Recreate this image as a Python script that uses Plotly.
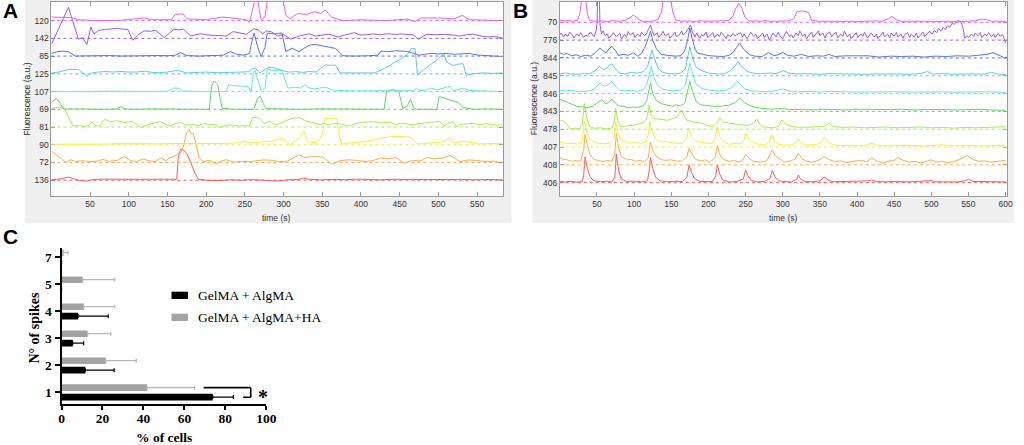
import plotly.graph_objects as go

W, H = 1024, 445

# ---------------- panel A: calcium traces (offset from own baseline, in row units)
A_LABELS = ['136', '72', '90', '81', '69', '107', '125', '85', '142', '120']

A136 = [(0, 0.02), (8, 0.05), (15, 0.1), (22, 0.18), (28, 0.08), (35, 0.0), (45, -0.05), (55, 0.04),
        (65, 0.06), (80, 0.05), (95, 0.07), (110, 0.06), (125, 0.05), (140, 0.06), (150, 0.04), (162, 0.05),
        (164, 1.3), (167, 1.75), (171, 1.7), (175, 1.5), (180, 1.0), (185, 0.45), (190, 0.05), (200, 0.0),
        (215, -0.02), (230, 0.02), (245, 0.0), (260, 0.03), (275, 0.0), (290, -0.05), (305, 0.02), (320, 0.05),
        (326, 0.12), (335, 0.04), (350, 0.02), (365, 0.05), (380, 0.03), (395, 0.06), (410, 0.04), (425, 0.02),
        (440, 0.05), (455, 0.04), (470, 0.03), (485, 0.06), (500, 0.02), (515, 0.04), (530, 0.05), (545, 0.02),
        (560, 0.04), (575, 0.03), (583, 0.02)]
A72 = [(0, 0.62), (6, 0.45), (12, 0.25), (18, 0.02), (25, 0.15), (32, 0.05), (40, 0.1), (50, 0.05), (60, 0.08),
       (66, 0.18), (75, 0.06), (85, 0.12), (95, 0.34), (102, 0.1), (110, 0.05), (118, 0.2), (126, 0.1),
       (134, 0.05), (141, 0.25), (148, 0.1), (154, 0.28), (162, 0.43), (168, 0.6), (171, 1.0), (175, 1.7),
       (178, 1.85), (181, 1.6), (183, 1.65), (186, 1.2), (191, 0.25), (197, 0.05), (205, 0.12), (213, -0.1),
       (220, 0.1), (226, 0.15), (235, 0.02), (245, 0.06), (256, 0.05), (265, 0.1), (275, 0.15), (285, 0.12),
       (295, 0.05), (305, 0.08), (313, 0.25), (320, 0.43), (328, 0.28), (340, 0.34), (350, 0.3), (363, -0.1),
       (372, 0.1), (384, 0.15), (395, 0.12), (405, 0.05), (415, 0.1), (426, 0.25), (436, 0.2), (445, 0.28),
       (456, -0.04), (465, 0.1), (478, 0.1), (485, 0.28), (495, 0.2), (505, 0.25), (515, 0.4), (522, 0.2),
       (528, 0.05), (540, 0.15), (550, 0.1), (560, 0.06), (572, 0.08), (583, -0.04)]
A90 = [(0, 0.03), (20, 0.02), (40, 0.05), (60, 0.03), (80, 0.05), (100, 0.04), (120, 0.06), (140, 0.05),
       (160, 0.07), (180, 0.06), (200, 0.08), (220, 0.07), (240, 0.1), (250, 0.19), (258, 0.1), (268, 0.15),
       (282, 0.19), (292, 0.3), (298, 0.38), (304, 0.15), (308, 0.0), (316, 0.25), (322, 0.45), (326, 0.8),
       (330, 0.3), (334, 0.1), (345, 0.15), (350, 0.6), (353, 1.47), (362, 1.5), (369, 1.45), (372, 0.5),
       (375, 0.04), (390, 0.12), (400, 0.15), (409, 0.22), (418, 0.28), (426, 0.38), (436, 0.45), (445, 0.48),
       (456, 0.45), (465, 0.42), (471, 0.1), (476, 0.05), (490, 0.1), (505, 0.15), (514, 0.38), (520, 0.1),
       (530, 0.18), (540, 0.15), (552, 0.05), (565, 0.06), (583, 0.08)]
A81 = [(0, 1.05), (8, 1.1), (16, 1.08), (22, 0.6), (28, 0.05), (35, 0.1), (42, 0.02), (48, 0.08), (52, 0.3),
       (56, 0.1), (62, 0.05), (69, 0.43), (76, 0.3), (85, 0.35), (95, 0.25), (104, 0.33), (110, 0.15),
       (116, -0.04), (124, 0.12), (132, 0.2), (141, 0.3), (148, 0.15), (154, 0.06), (160, 0.2), (167, 0.25),
       (175, 0.1), (182, 0.15), (190, 0.08), (198, 0.2), (206, 0.12), (212, 0.15), (218, -0.04), (226, 0.12),
       (235, 0.1), (243, 0.05), (250, 0.1), (256, 0.06), (260, 0.53), (266, 0.53), (270, 0.45), (275, 0.19),
       (282, 0.34), (290, 0.1), (298, 0.25), (307, 0.43), (314, 0.5), (320, 0.53), (328, 0.35), (336, 0.25),
       (346, 0.15), (352, 0.2), (358, 0.11), (365, 0.2), (372, 0.19), (384, 0.05), (392, 0.2), (401, 0.25),
       (410, 0.3), (418, 0.3), (426, 0.22), (436, 0.28), (445, 0.15), (452, 0.22), (460, 0.15), (468, 0.12),
       (476, 0.2), (485, 0.25), (494, 0.3), (502, 0.32), (507, 0.05), (512, 0.2), (519, 0.3), (524, 0.0),
       (528, 0.15), (536, 0.19), (545, 0.2), (552, 0.14), (562, 0.18), (572, 0.12), (583, 0.1)]
A69 = [(0, 0.38), (3, 0.5), (6, 0.6), (10, 0.45), (16, 0.0), (25, 0.02), (40, 0.0), (55, 0.02), (70, 0.0),
       (85, 0.02), (90, 0.15), (95, 0.02), (110, 0.0), (130, 0.02), (150, 0.0), (170, 0.02), (190, 0.0),
       (204, 0.0), (207, 1.3), (210, 1.6), (215, 1.4), (218, 0.6), (221, 0.05), (235, 0.0), (250, 0.02),
       (262, 0.0), (266, 0.6), (270, 0.75), (274, 0.3), (277, 0.04), (295, 0.02), (320, 0.0), (350, 0.02),
       (380, 0.0), (410, 0.02), (430, 0.0), (433, 1.0), (438, 1.1), (444, 1.08), (449, 1.0), (454, 0.04),
       (460, 0.2), (464, 0.57), (468, 0.1), (472, 0.0), (490, 0.02), (498, 0.0), (501, 0.72), (507, 0.65),
       (513, 0.55), (519, 0.47), (526, 0.38), (532, 0.1), (545, 0.0), (560, 0.02), (583, 0.0)]
A107 = [(0, 0.0), (30, 0.02), (60, 0.0), (90, 0.02), (120, 0.0), (150, 0.02), (155, 0.12), (158, 0.19),
        (164, 0.19), (170, 0.03), (190, 0.0), (210, 0.02), (226, 0.0), (229, 0.38), (238, 0.32), (248, 0.3),
        (254, 0.28), (258, -0.04), (261, 1.1), (263, 1.2), (266, 0.8), (271, 0.05), (276, 0.2), (279, 1.3),
        (285, 1.18), (292, 1.2), (298, 1.18), (303, 0.5), (306, 0.19), (316, 0.25), (322, 0.2), (328, 0.38),
        (333, 0.2), (340, 0.15), (354, 0.25), (362, 0.1), (368, 0.06), (390, 0.04), (420, 0.06), (450, 0.04),
        (468, 0.05), (472, 0.19), (476, 0.05), (485, 0.1), (490, 0.19), (500, 0.1), (514, 0.3), (520, 0.05),
        (532, 0.19), (540, 0.06), (560, 0.02), (583, 0.0)]
A125 = [(0, 0.05), (10, 0.1), (22, 0.25), (35, 0.25), (46, -0.13), (52, 0.05), (60, 0.1), (70, 0.13),
        (80, 0.1), (90, 0.13), (100, 0.1), (110, 0.1), (120, 0.15), (130, 0.08), (140, 0.06), (150, 0.1),
        (163, 0.2), (175, 0.05), (190, 0.08), (200, 0.1), (215, 0.06), (230, 0.1), (245, 0.1), (255, 0.12),
        (260, 0.28), (264, 0.3), (269, 0.05), (275, 0.2), (281, 0.38), (290, 0.3), (298, 0.19), (306, 0.1),
        (316, 0.12), (325, 0.08), (333, 0.13), (342, 0.1), (348, 0.3), (354, 0.5), (362, 0.48), (367, 0.5),
        (373, 0.05), (385, 0.05), (400, 0.06), (418, 0.05), (430, 0.3), (440, 0.55), (452, 0.85), (460, 1.1),
        (465, 1.42), (470, 1.42), (473, -0.08), (480, 0.2), (490, 0.5), (500, 0.85), (507, 1.13), (511, 0.66),
        (519, 0.47), (526, 0.55), (532, 0.57), (536, -0.08), (545, 0.0), (555, 0.05), (570, 0.03), (583, 0.05)]
A85 = [(0, 0.15), (8, 0.25), (15, 0.28), (22, 0.25), (31, 0.0), (45, 0.02), (60, 0.0), (75, 0.03), (90, 0.0),
       (105, 0.02), (120, 0.0), (135, 0.03), (150, 0.02), (160, 0.05), (167, 0.2), (175, 0.03), (190, 0.0),
       (205, 0.02), (222, 0.05), (231, 0.25), (240, 0.1), (248, 0.05), (256, 0.15), (259, 0.8), (262, 1.3),
       (266, 0.6), (271, -0.04), (276, 0.5), (279, 1.3), (288, 1.25), (298, 1.3), (303, 0.25), (311, 0.45),
       (320, 0.25), (333, 0.62), (341, 0.66), (348, 0.6), (354, 0.53), (367, 0.43), (376, 0.02), (390, 0.0),
       (410, 0.02), (422, 0.05), (426, 0.28), (435, 0.25), (445, 0.3), (452, 0.28), (460, 0.26), (468, 0.15),
       (475, 0.05), (482, 0.1), (490, 0.15), (500, 0.12), (510, 0.15), (520, 0.1), (530, 0.12), (540, 0.15),
       (550, 0.06), (560, 0.02), (583, -0.03)]
A142 = [(0, -0.34), (22, 1.74), (35, -0.05), (40, 0.04), (46, -0.34), (51, 0.64), (55, 0.23), (61, 0.45),
        (70, 0.5), (78, 0.55), (85, 0.57), (92, 0.52), (99, 0.5), (105, -0.11), (112, 0.2), (120, 0.42),
        (128, 0.4), (135, 0.45), (146, 0.04), (158, 0.51), (165, 0.48), (171, 0.51), (180, 0.13), (186, 0.2),
        (193, 0.26), (200, 0.2), (209, 0.17), (218, 0.15), (226, 0.13), (235, 0.38), (244, 0.3), (252, 0.23),
        (262, 0.55), (268, 0.45), (273, 0.26), (278, 0.42), (285, 0.36), (292, 0.13), (300, 0.23), (309, -0.05),
        (320, 0.13), (333, 0.26), (341, 0.13), (350, 0.2), (358, 0.23), (365, 0.15), (371, 0.08), (380, 0.2),
        (392, 0.32), (398, 0.2), (405, 0.19), (415, 0.25), (425, 0.2), (434, 0.26), (445, 0.22), (452, 0.25),
        (460, 0.23), (468, 0.19), (474, -0.05), (485, 0.23), (497, 0.2), (510, 0.23), (520, 0.18), (528, 0.13),
        (536, 0.2), (545, 0.23), (553, 0.15), (562, 0.08), (572, 0.1), (582, 0.04)]
A120 = [(0, 0.2), (10, 0.2), (25, 0.18), (35, 0.05), (60, 0.0), (90, 0.02), (120, 0.15), (130, 0.05),
        (155, 0.05), (160, 0.35), (170, 0.38), (175, 0.1), (200, 0.05), (222, 0.2), (235, 0.15), (252, 0.05),
        (256, -0.1), (262, 1.0), (266, 1.3), (271, 0.05), (276, 0.2), (280, 1.4), (298, 1.4), (303, 0.3),
        (308, 0.1), (318, 0.4), (330, 0.35), (340, 0.5), (348, 0.4), (354, 0.6), (362, 0.2), (376, 0.0),
        (400, 0.05), (430, 0.0), (460, 0.08), (470, -0.05), (478, 0.15), (500, 0.15), (520, 0.1), (531, 0.3),
        (540, 0.05), (560, 0.02), (582, 0.0)]
A_TRACES = [A136, A72, A90, A81, A69, A107, A125, A85, A142, A120]
A_XTICKS = [50, 100, 150, 200, 250, 300, 350, 400, 450, 500, 550]

# ---------------- panel B
B_LABELS = ['406', '408', '407', '478', '843', '846', '845', '844', '776', '70']

B406 = [(0, 0.06), (8, 0.04), (15, 0.07), (22, 0.03), (30, 0.05), (32, 0.4), (34, 1.45), (37, 0.8), (41, 0.3),
        (46, 0.1), (55, 0.05), (63, 0.08), (70, 0.03), (74, 0.3), (76, 1.6), (79, 0.7), (83, 0.2), (90, 0.06),
        (100, 0.08), (110, 0.04), (118, 0.1), (120, 0.6), (122, 1.42), (125, 0.8), (129, 0.3), (135, 0.1),
        (145, 0.05), (155, 0.08), (165, 0.06), (171, 0.3), (174, 1.0), (177, 0.6), (181, 0.25), (188, 0.08),
        (198, 0.05), (206, 0.07), (210, 0.4), (212, 1.0), (215, 0.5), (219, 0.15), (228, 0.04), (238, 0.06),
        (247, 0.2), (250, 0.71), (253, 0.4), (258, 0.12), (266, 0.05), (276, 0.07), (283, 0.25), (286, 0.69),
        (289, 0.35), (294, 0.1), (303, 0.06), (312, 0.04), (319, 0.2), (321, 0.43), (324, 0.2), (330, 0.06),
        (340, 0.05), (350, 0.1), (356, 0.32), (361, 0.15), (368, 0.05), (380, 0.06), (392, 0.04), (405, 0.07),
        (415, 0.1), (420, 0.15), (426, 0.06), (440, 0.05), (455, 0.07), (470, 0.04), (485, 0.06), (495, 0.08),
        (500, 0.12), (506, 0.05), (520, 0.06), (535, 0.04), (545, 0.1), (550, 0.19), (556, 0.07), (570, 0.05),
        (585, 0.06), (600, 0.04)]
B408 = [(0, 0.41), (5, 0.3), (10, 0.28), (16, 0.2), (22, 0.24), (28, 0.2), (32, 0.8), (34, 1.7), (37, 1.1),
        (41, 0.55), (46, 0.3), (52, 0.22), (58, 0.18), (64, 0.25), (70, 0.2), (74, 0.6), (76, 1.78), (79, 1.0),
        (83, 0.45), (90, 0.28), (96, 0.3), (102, 0.2), (108, 0.25), (114, 0.18), (119, 0.4), (122, 1.27),
        (125, 0.8), (130, 0.45), (136, 0.3), (142, 0.25), (150, 0.28), (158, 0.2), (165, 0.22), (171, 0.45),
        (174, 0.93), (178, 0.6), (183, 0.3), (190, 0.22), (196, 0.28), (202, 0.15), (209, 0.4), (212, 1.08),
        (215, 0.6), (220, 0.3), (228, 0.2), (235, 0.24), (242, 0.15), (247, 0.3), (250, 0.6), (254, 0.4),
        (260, 0.2), (266, 0.18), (272, 0.15), (279, 0.25), (286, 0.84), (290, 0.5), (296, 0.3), (302, 0.15),
        (310, 0.22), (316, 0.3), (321, 0.65), (326, 0.35), (332, 0.2), (340, 0.15), (348, 0.25), (356, 0.47),
        (362, 0.3), (370, 0.18), (378, 0.22), (386, 0.12), (395, 0.2), (405, 0.25), (413, 0.18), (420, 0.37),
        (427, 0.2), (435, 0.1), (444, 0.22), (450, 0.25), (455, 0.41), (462, 0.25), (470, 0.15), (478, 0.2),
        (486, 0.1), (493, 0.2), (499, 0.28), (506, 0.15), (514, 0.2), (522, 0.12), (530, 0.18), (538, 0.3),
        (548, 0.52), (556, 0.3), (564, 0.2), (572, 0.22), (580, 0.15), (590, 0.2), (600, 0.25)]
B407 = [(0, 0.28), (6, 0.22), (12, 0.18), (18, 0.22), (24, 0.15), (30, 0.3), (33, 1.44), (36, 0.9), (40, 0.45),
        (45, 0.3), (52, 0.2), (60, 0.18), (67, 0.22), (73, 0.5), (75, 1.44), (78, 0.85), (82, 0.4), (88, 0.3),
        (95, 0.22), (102, 0.25), (110, 0.2), (116, 0.3), (119, 0.7), (121, 1.44), (124, 0.9), (128, 0.5),
        (134, 0.35), (142, 0.3), (150, 0.25), (158, 0.2), (166, 0.22), (171, 0.5), (173, 1.07), (177, 0.6),
        (182, 0.35), (190, 0.25), (198, 0.22), (205, 0.18), (209, 0.45), (212, 1.16), (215, 0.6), (220, 0.3),
        (228, 0.15), (236, 0.2), (244, 0.18), (248, 0.4), (250, 0.79), (254, 0.45), (260, 0.25), (268, 0.15),
        (276, 0.12), (282, 0.3), (285, 0.69), (289, 0.35), (295, 0.15), (303, 0.1), (312, 0.12), (318, 0.25),
        (321, 0.45), (325, 0.2), (332, 0.1), (342, 0.12), (350, 0.2), (356, 0.56), (361, 0.3), (368, 0.12),
        (378, 0.08), (390, 0.1), (402, 0.06), (412, 0.1), (420, 0.22), (426, 0.1), (440, 0.06), (455, 0.08),
        (470, 0.1), (485, 0.05), (500, 0.08), (515, 0.12), (530, 0.06), (545, 0.1), (560, 0.08), (575, 0.06),
        (590, 0.1), (600, 0.08)]
B478 = [(0, 0.45), (4, 0.5), (8, 0.35), (14, 0.02), (20, 0.06), (26, 0.0), (30, 0.2), (33, 1.44), (36, 0.7),
        (40, 0.15), (46, 0.05), (54, 0.08), (62, 0.02), (70, 0.06), (73, 0.4), (75, 1.16), (78, 0.5), (82, 0.15),
        (90, 0.18), (100, 0.22), (107, 0.3), (114, 0.41), (118, 0.7), (120, 1.35), (123, 0.8), (127, 0.6),
        (136, 0.55), (145, 0.5), (152, 0.6), (158, 0.69), (161, 0.9), (164, 1.07), (167, 0.75), (171, 0.5),
        (180, 0.4), (193, 0.32), (200, 0.2), (206, 0.13), (212, 0.4), (215, 0.64), (220, 0.4), (229, 0.32),
        (240, 0.25), (255, 0.22), (262, 0.4), (265, 0.57), (269, 0.3), (273, 0.13), (286, 0.08), (294, 0.15),
        (299, 0.52), (305, 0.25), (312, 0.15), (325, 0.1), (340, 0.12), (355, 0.15), (362, 0.34), (368, 0.15),
        (380, 0.1), (395, 0.12), (410, 0.08), (425, 0.1), (440, 0.12), (455, 0.08), (470, 0.1), (485, 0.12),
        (500, 0.08), (515, 0.1), (530, 0.06), (545, 0.1), (560, 0.08), (575, 0.1), (590, 0.12), (600, 0.14)]
B843 = [(0, 0.69), (5, 0.6), (10, 0.5), (16, 0.4), (23, 0.28), (30, 0.25), (38, 0.22), (45, 0.3), (50, 0.45),
        (56, 0.65), (62, 0.42), (66, 0.5), (70, 0.69), (75, 0.45), (80, 0.3), (86, 0.28), (92, 0.2), (99, 0.25),
        (105, 0.22), (112, 0.3), (117, 0.6), (120, 1.3), (122, 1.59), (125, 1.0), (130, 0.6), (137, 0.43),
        (145, 0.35), (152, 0.28), (157, 0.37), (162, 0.3), (168, 0.45), (172, 1.2), (175, 1.68), (178, 1.2),
        (183, 0.6), (189, 0.37), (198, 0.32), (208, 0.28), (218, 0.3), (228, 0.35), (236, 0.5), (242, 0.75),
        (248, 0.5), (257, 0.3), (266, 0.2), (275, 0.15), (285, 0.12), (300, 0.17), (310, 0.1), (325, 0.12),
        (340, 0.08), (355, 0.12), (370, 0.1), (385, 0.08), (400, 0.12), (415, 0.1), (430, 0.08), (445, 0.1),
        (460, 0.12), (475, 0.08), (490, 0.1), (505, 0.12), (520, 0.1), (535, 0.08), (550, 0.1), (565, 0.12),
        (580, 0.08), (600, 0.06)]
B846 = [(0, 0.19), (8, 0.15), (16, 0.18), (24, 0.1), (32, 0.12), (40, 0.15), (46, 0.25), (50, 0.4), (54, 0.6),
        (58, 0.42), (63, 0.45), (67, 0.6), (70, 0.69), (75, 0.4), (80, 0.2), (88, 0.15), (96, 0.18), (104, 0.12),
        (112, 0.2), (117, 0.5), (120, 1.1), (123, 1.53), (126, 1.0), (131, 0.5), (138, 0.25), (146, 0.18),
        (155, 0.15), (163, 0.2), (169, 0.5), (172, 1.2), (175, 1.72), (178, 1.2), (183, 0.55), (190, 0.3),
        (200, 0.2), (212, 0.15), (222, 0.18), (230, 0.3), (235, 0.5), (239, 0.69), (244, 0.45), (250, 0.25),
        (258, 0.15), (268, 0.12), (280, 0.1), (290, 0.15), (300, 0.26), (308, 0.15), (320, 0.1), (335, 0.12),
        (350, 0.08), (365, 0.12), (380, 0.1), (395, 0.12), (410, 0.08), (425, 0.1), (440, 0.12), (455, 0.1),
        (470, 0.08), (485, 0.1), (500, 0.12), (515, 0.1), (530, 0.08), (545, 0.1), (560, 0.12), (575, 0.1),
        (590, 0.08), (600, 0.06)]
B845 = [(0, 0.11), (8, 0.15), (16, 0.1), (24, 0.08), (32, 0.12), (40, 0.1), (46, 0.25), (50, 0.4), (54, 0.52),
        (58, 0.35), (63, 0.42), (67, 0.6), (70, 0.67), (75, 0.4), (80, 0.15), (88, 0.1), (96, 0.2), (104, 0.15),
        (112, 0.22), (118, 0.5), (121, 1.0), (124, 1.46), (127, 1.0), (132, 0.45), (138, 0.2), (146, 0.12),
        (155, 0.1), (163, 0.15), (169, 0.4), (172, 1.1), (175, 1.64), (178, 1.1), (183, 0.5), (190, 0.3),
        (200, 0.15), (212, 0.1), (222, 0.12), (230, 0.3), (236, 0.55), (240, 0.8), (245, 0.5), (252, 0.25),
        (260, 0.15), (270, 0.12), (282, 0.15), (292, 0.12), (301, 0.3), (308, 0.15), (320, 0.1), (335, 0.12),
        (350, 0.08), (365, 0.12), (380, 0.1), (395, 0.12), (410, 0.08), (425, 0.1), (440, 0.12), (455, 0.1),
        (470, 0.08), (485, 0.12), (495, 0.24), (502, 0.1), (515, 0.12), (530, 0.08), (545, 0.1), (560, 0.12),
        (572, 0.1), (581, 0.19), (590, 0.1), (600, 0.06)]
B844 = [(0, 0.28), (5, 0.2), (10, 0.25), (16, 0.12), (22, 0.18), (28, 0.08), (35, 0.15), (42, 0.1), (48, 0.3),
        (54, 0.56), (58, 0.4), (62, 0.28), (66, 0.5), (70, 0.65), (75, 0.4), (79, 0.13), (85, 0.2), (92, 0.15),
        (99, 0.28), (105, 0.1), (110, 0.25), (115, 0.65), (119, 1.1), (122, 1.5), (125, 1.0), (130, 0.5),
        (137, 0.19), (145, 0.15), (155, 0.1), (163, 0.12), (168, 0.4), (172, 1.0), (175, 1.68), (178, 1.1),
        (182, 0.5), (185, 0.28), (192, 0.2), (200, 0.13), (210, 0.1), (220, 0.08), (228, 0.15), (234, 0.35),
        (238, 0.6), (242, 0.84), (247, 0.5), (255, 0.19), (262, 0.1), (272, 0.08), (281, 0.3), (288, 0.12),
        (294, 0.18), (300, 0.32), (306, 0.15), (315, 0.1), (325, 0.2), (335, 0.08), (345, 0.12), (355, 0.1),
        (362, 0.2), (370, 0.08), (385, 0.12), (400, 0.1), (415, 0.12), (430, 0.05), (445, 0.1), (460, 0.08),
        (475, 0.1), (490, 0.05), (505, 0.1), (520, 0.08), (535, 0.12), (550, 0.1), (565, 0.15), (575, 0.2),
        (583, 0.3), (590, 0.15), (600, -0.02)]
B776 = [(0, 0.28), (2, 0.4), (5, 0.18), (7, 0.33), (11, 0.22), (13, 0.45), (17, 0.28), (19, 0.12), (23, 0.36),
        (26, 0.24), (28, 0.42), (32, 0.15), (35, 0.3), (37, 0.2), (41, 0.46), (44, 0.32), (46, 0.2), (49, 0.55),
        (50, 0.9), (51, 2.6), (53, 2.6), (54, 0.9), (56, 0.35), (58, 0.52), (61, 0.25), (64, 0.34), (66, 0.1),
        (70, 0.3), (72, 0.42), (76, 0.2), (78, 0.28), (81, 0.38), (83, 0.06), (87, 0.32), (90, 0.16), (92, 0.48),
        (95, 0.28), (99, 0.42), (101, 0.14), (105, 0.34), (108, 0.2), (110, 0.44), (114, 0.24), (117, 0.4),
        (119, 0.58), (122, 0.85), (124, 0.55), (127, 0.24), (131, 0.42), (133, 0.15), (137, 0.35), (139, 0.5),
        (142, 0.22), (146, 0.38), (148, 0.1), (152, 0.32), (155, 0.44), (157, 0.2), (161, 0.3), (164, 0.52),
        (166, 0.28), (170, 0.45), (173, 0.62), (176, 0.85), (178, 0.5), (182, 0.18), (184, 0.4), (188, 0.1),
        (191, 0.32), (193, 0.22), (197, 0.46), (199, 0.14), (203, 0.3), (206, 0.42), (208, 0.14), (212, 0.34),
        (215, 0.2), (217, 0.44), (221, 0.25), (224, 0.08), (226, 0.32), (230, 0.18), (233, 0.38), (236, 0.24),
        (240, 0.34), (243, 0.42), (246, 0.18), (248, 0.34), (252, 0.08), (255, 0.3), (257, 0.44), (261, 0.2),
        (264, 0.32), (266, 0.08), (270, 0.28), (273, 0.4), (275, 0.15), (279, 0.34), (282, 0.0), (285, 0.25),
        (287, 0.4), (291, 0.18), (294, 0.44), (296, 0.25), (300, 0.08), (303, 0.34), (305, 0.5), (309, 0.2),
        (312, 0.3), (314, 0.12), (318, 0.4), (321, 0.25), (323, 0.52), (327, 0.2), (330, 0.34), (332, 0.08),
        (336, 0.3), (339, 0.46), (341, 0.15), (345, 0.34), (348, 0.52), (350, 0.25), (354, 0.4), (357, 0.12),
        (359, 0.32), (363, 0.46), (366, 0.18), (368, 0.32), (372, 0.44), (374, 0.12), (378, 0.34), (381, 0.22),
        (383, 0.5), (387, 0.18), (390, 0.34), (392, 0.08), (396, 0.3), (399, 0.42), (401, 0.15), (405, 0.34),
        (408, 0.22), (410, 0.44), (414, 0.12), (417, 0.3), (419, 0.4), (423, 0.18), (426, 0.34), (428, 0.08),
        (432, 0.28), (435, 0.44), (437, 0.18), (441, 0.34), (444, 0.12), (446, 0.4), (450, 0.22), (453, 0.44),
        (455, 0.18), (459, 0.34), (462, 0.1), (464, 0.3), (468, 0.42), (471, 0.15), (473, 0.34), (477, 0.18),
        (480, 0.4), (482, 0.12), (486, 0.32), (489, 0.44), (491, 0.2), (495, 0.36), (498, 0.5), (501, 0.34),
        (504, 0.55), (507, 0.42), (510, 0.65), (513, 0.52), (516, 0.72), (519, 0.6), (522, 0.82), (525, 0.72),
        (528, 0.95), (531, 0.88), (534, 1.05), (537, 1.1), (540, 1.0), (543, 0.6), (545, 0.1), (548, 0.25),
        (550, 0.15), (554, 0.34), (557, 0.2), (559, 0.4), (563, 0.24), (566, 0.42), (568, 0.14), (572, 0.34),
        (575, 0.24), (577, 0.42), (581, 0.2), (584, 0.34), (586, 0.14), (590, 0.38), (593, 0.22), (596, 0.32),
        (599, -0.1), (600, -0.15)]
B70 = [(0, 0.13), (6, 0.08), (12, 0.1), (18, 0.06), (24, 0.12), (27, 0.5), (30, 1.5), (34, 1.5), (37, 0.5),
       (40, 0.1), (48, 0.06), (56, 0.08), (64, 0.05), (72, 0.1), (80, 0.06), (88, 0.1), (94, 0.25), (99, 0.41),
       (104, 0.25), (110, 0.06), (118, 0.05), (126, 0.08), (132, 0.15), (137, 0.6), (140, 1.5), (148, 1.5),
       (152, 0.6), (156, 0.12), (164, 0.06), (172, 0.08), (180, 0.05), (190, 0.08), (200, 0.06), (210, 0.05),
       (220, 0.08), (228, 0.12), (233, 0.35), (237, 0.8), (241, 1.07), (245, 0.8), (249, 0.3), (254, 0.08),
       (262, 0.05), (270, 0.06), (276, 0.1), (282, 0.05), (290, 0.06), (300, 0.05), (308, 0.08), (315, 0.2),
       (319, 0.6), (324, 0.64), (330, 0.62), (335, 0.55), (339, 0.1), (348, 0.06), (360, 0.05), (372, 0.08),
       (385, 0.05), (398, 0.06), (410, 0.05), (422, 0.08), (434, 0.06), (442, 0.2), (447, 0.34), (452, 0.15),
       (460, 0.05), (472, 0.06), (485, 0.05), (498, 0.08), (510, 0.05), (522, 0.06), (535, 0.05), (548, 0.06),
       (560, 0.08), (566, 0.17), (574, 0.17), (580, 0.06), (590, 0.05), (600, 0.06)]
B_TRACES = [B406, B408, B407, B478, B843, B846, B845, B844, B776, B70]
B_XTICKS = [50, 100, 150, 200, 250, 300, 350, 400, 450, 500, 550, 600]

# colours from bottom row (red) to top row (magenta)
TRACE_COLORS = ['#ff5a5a', '#ffab52', '#f0f03c', '#a6ee4e', '#5ade5a',
                '#5eeed2', '#5ccaf0', '#5b72f0', '#985cf0', '#f25cf2']

# ---------------- panel C: spike counts
SPIKES = ['1', '2', '3', '4', '5', '7']
ALG_PCT = [73.8, 11.6, 5.5, 8.1, 0, 0]
ALG_ERR = [10.1, 14.1, 5.3, 14.7, 0, 0]
HA_PCT = [41.8, 21.6, 12.7, 10.9, 10.3, 0.6]
HA_ERR = [23.2, 14.9, 11.4, 15.1, 15.7, 2.6]
C_XTICKS = [0, 20, 40, 60, 80, 100]


def fx(p):
    return p / W


def fy(p):
    return 1 - p / H


SANS = 'Liberation Sans, Arial, sans-serif'
SERIF = 'Liberation Serif, Times New Roman, serif'
AXGREY = '#9a9a9a'

fig = go.Figure()

for traces, xa, ya in [(A_TRACES, 'x', 'y'), (B_TRACES, 'x2', 'y2')]:
    for i, tr in enumerate(traces):
        t = [p[0] for p in tr]
        v = [i + p[1] for p in tr]
        fig.add_trace(go.Scatter(x=t, y=v, mode='lines', xaxis=xa, yaxis=ya,
                                 line=dict(color=TRACE_COLORS[i], width=1), hoverinfo='skip'))

fig.add_trace(go.Bar(y=SPIKES, x=ALG_PCT, orientation='h', name='GelMA + AlgMA',
                     marker=dict(color='#000000', line=dict(width=0)), xaxis='x3', yaxis='y3',
                     error_x=dict(type='data', symmetric=False, array=ALG_ERR, arrayminus=[0] * len(ALG_ERR),
                                  color='#000000', thickness=1.2, width=2)))
fig.add_trace(go.Bar(y=SPIKES, x=HA_PCT, orientation='h', name='GelMA + AlgMA+HA',
                     marker=dict(color='#a3a3a3', line=dict(width=0)), xaxis='x3', yaxis='y3',
                     error_x=dict(type='data', symmetric=False, array=HA_ERR, arrayminus=[0] * len(HA_ERR),
                                  color='#b8b8b8', thickness=1.2, width=2)))

shapes = []
# grey figure panels behind A and B, white plot boxes on top of them
for x0, x1 in [(22, 515), (536, 1024)]:
    shapes.append(dict(type='rect', xref='paper', yref='paper', x0=fx(x0), x1=fx(x1), y0=fy(223), y1=fy(0),
                       fillcolor='#f0f0f0', line=dict(width=0), layer='below'))
for x0, x1 in [(49, 506), (564, 1017)]:
    shapes.append(dict(type='rect', xref='paper', yref='paper', x0=fx(x0), x1=fx(x1), y0=fy(196), y1=fy(2),
                       fillcolor='#ffffff', line=dict(width=0), layer='below'))
# dotted baselines
for xa, ya in [('x', 'y'), ('x2', 'y2')]:
    for i in range(10):
        shapes.append(dict(type='line', xref=xa + ' domain', yref=ya, x0=0, x1=1, y0=i, y1=i,
                           line=dict(color=TRACE_COLORS[i], width=1, dash='dot')))
# legend swatches for C
shapes.append(dict(type='rect', xref='paper', yref='paper', x0=fx(170.7), x1=fx(187.3), y0=fy(299), y1=fy(291.7),
                   fillcolor='#000000', line=dict(width=0)))
shapes.append(dict(type='rect', xref='paper', yref='paper', x0=fx(170.7), x1=fx(187.3), y0=fy(321), y1=fy(313.7),
                   fillcolor='#a3a3a3', line=dict(width=0)))
# significance bracket between the two bars of "1"
for x0, y0, x1, y1 in [(69.4, 0.175, 92.4, 0.175), (92.4, 0.175, 92.4, -0.18), (92.4, -0.18, 88.7, -0.18)]:
    shapes.append(dict(type='line', xref='x3', yref='y3', x0=x0, y0=y0, x1=x1, y1=y1,
                       line=dict(color='#000000', width=1.6)))

ann = []
for txt, x, y in [('A', 8, 10), ('B', 524, 10), ('C', 8, 236)]:
    ann.append(dict(text=txt, x=fx(x), y=fy(y), xref='paper', yref='paper', showarrow=False,
                    font=dict(family=SANS, size=21, color='#000000', weight='bold'),
                    xanchor='center', yanchor='middle'))
for x in [24, 538]:
    ann.append(dict(text='Fluorescence (a.u.)', x=fx(x), y=fy(99), xref='paper', yref='paper', showarrow=False,
                    textangle=-90, font=dict(family=SANS, size=8.5, color='#333333'),
                    xanchor='center', yanchor='middle'))
for x in [277.5, 790.5]:
    ann.append(dict(text='time (s)', x=fx(x), y=fy(218), xref='paper', yref='paper', showarrow=False,
                    font=dict(family=SANS, size=8.5, color='#333333'), xanchor='center', yanchor='middle'))
for txt, y in [('GelMA + AlgMA', 295.3), ('GelMA + AlgMA+HA', 317.3)]:
    ann.append(dict(text=txt, x=fx(195), y=fy(y), xref='paper', yref='paper', showarrow=False,
                    font=dict(family=SERIF, size=13.5, color='#000000'), xanchor='left', yanchor='middle'))
ann.append(dict(text='N° of spikes', x=fx(31), y=fy(328), xref='paper', yref='paper', showarrow=False,
                textangle=-90, font=dict(family=SERIF, size=14, color='#000000', weight='bold'),
                xanchor='center', yanchor='middle'))
ann.append(dict(text='% of cells', x=fx(163), y=fy(437), xref='paper', yref='paper', showarrow=False,
                font=dict(family=SERIF, size=13.5, color='#000000', weight='bold'),
                xanchor='center', yanchor='middle', borderpad=0))
ann.append(dict(text='*', x=98.5, y=0, xref='x3', yref='y3', showarrow=False, yshift=-5,
                font=dict(family=SERIF, size=20, color='#000000', weight='bold'),
                xanchor='center', yanchor='middle'))

trace_x = dict(showgrid=False, zeroline=False, showline=True, linecolor=AXGREY, linewidth=1, mirror='ticks',
               ticks='inside', ticklen=4, tickcolor=AXGREY, tickfont=dict(family=SANS, size=8.5, color='#333333'))
trace_y = dict(showgrid=False, zeroline=False, showline=True, linecolor=AXGREY, linewidth=1, mirror='ticks',
               ticks='inside', ticklen=4, tickcolor=AXGREY, tickfont=dict(family=SANS, size=8.5, color='#333333'),
               tickvals=list(range(10)))

fig.update_layout(
    width=W, height=H, margin=dict(l=0, r=0, t=0, b=0), showlegend=False,
    paper_bgcolor='#ffffff', plot_bgcolor='rgba(0,0,0,0)',
    bargap=0.3, bargroupgap=0.3, barmode='group',
    xaxis=dict(trace_x, domain=[fx(49), fx(506)], range=[0, 583], tickvals=A_XTICKS, anchor='y'),
    yaxis=dict(trace_y, domain=[fy(196), fy(2)], range=[-0.89, 10.05], ticktext=A_LABELS, anchor='x'),
    xaxis2=dict(trace_x, domain=[fx(564), fx(1017)], range=[0, 602], tickvals=B_XTICKS, anchor='y2'),
    yaxis2=dict(trace_y, domain=[fy(196), fy(2)], range=[-0.75, 10.14], ticktext=B_LABELS, anchor='x2'),
    xaxis3=dict(domain=[fx(59.3), fx(266.7)], range=[0, 100], tickvals=C_XTICKS, anchor='y3',
                showgrid=False, zeroline=False, showline=True, linecolor='#000000', linewidth=2,
                ticks='outside', ticklen=4, tickwidth=1.6, tickcolor='#000000', ticklabelstandoff=-3,
                tickfont=dict(family=SERIF, size=13.5, color='#000000', weight='bold')),
    yaxis3=dict(domain=[fy(404), fy(248)], type='category', categoryorder='array', categoryarray=SPIKES,
                range=[-0.43, 5.35], anchor='x3', showgrid=False, zeroline=False, showline=True,
                linecolor='#000000', linewidth=2, ticks='outside', ticklen=5, tickwidth=1.6,
                tickcolor='#000000', tickfont=dict(family=SERIF, size=13.5, color='#000000', weight='bold')),
    shapes=shapes, annotations=ann,
)

# the page's default body margin would push the 1024x445 figure off the window
fig.write_html('out.html', config={'displayModeBar': False},
               post_script="document.body.style.margin='0';document.body.style.overflow='hidden';")
